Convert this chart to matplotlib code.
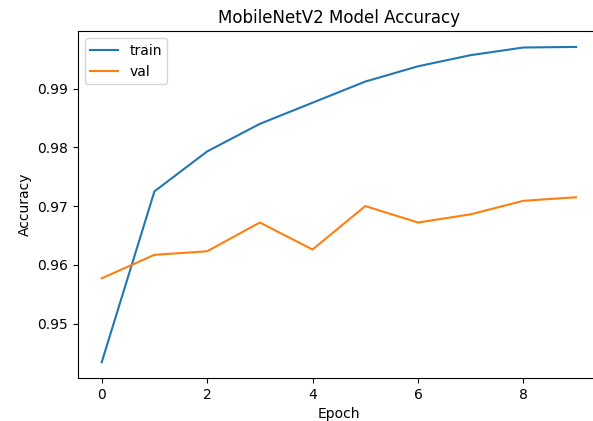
import matplotlib
matplotlib.use("Agg")
import matplotlib.pyplot as plt

epochs = list(range(10))
train_acc = [0.9434, 0.9725, 0.9793, 0.9840, 0.9876, 0.9912, 0.9938, 0.9957, 0.9970, 0.9971]
val_acc = [0.9577, 0.9617, 0.9623, 0.9672, 0.9626, 0.9700, 0.9672, 0.9686, 0.9709, 0.9715]

fig = plt.figure(figsize=(5.93, 4.21), dpi=100)
ax = fig.add_axes([0.1315, 0.102, 0.88, 0.824])
ax.plot(epochs, train_acc, label="train")
ax.plot(epochs, val_acc, label="val")
ax.set_title("MobileNetV2 Model Accuracy")
ax.set_xlabel("Epoch")
ax.set_ylabel("Accuracy")
ax.legend(loc="upper left")
fig.savefig("out.png", dpi=100)
